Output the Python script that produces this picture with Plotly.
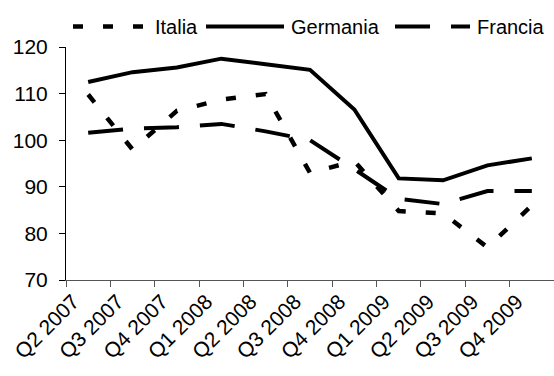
import plotly.graph_objects as go

quarters = ["Q2 2007", "Q3 2007", "Q4 2007", "Q1 2008", "Q2 2008", "Q3 2008",
            "Q4 2008", "Q1 2009", "Q2 2009", "Q3 2009", "Q4 2009"]
italia = [109.8, 98.0, 106.3, 108.7, 109.9, 93.0, 95.5, 84.8, 84.3, 77.0, 86.0]
germania = [112.5, 114.6, 115.6, 117.5, 116.3, 115.1, 106.6, 91.8, 91.4, 94.6, 96.1]
francia = [101.6, 102.5, 102.8, 103.5, 101.9, 100.0, 93.8, 87.4, 86.3, 89.1, 89.1]

series_names = ["Italia", "Germania", "Francia"]
series_values = [italia, germania, francia]
series_dash = ["10px,20px", "solid", "35px,21px"]
series_width = [4.5, 4, 4]

W, H = 554, 376
M_L, M_R, M_T, M_B = 66, 0, 47, 96
PW, PH = W - M_L - M_R, H - M_T - M_B

FONT = "Liberation Sans, Arial, sans-serif"

fig = go.Figure()
for name, vals, dash, lw in zip(series_names, series_values, series_dash, series_width):
    fig.add_trace(go.Scatter(
        x=quarters, y=vals, name=name, mode="lines",
        line=dict(color="black", width=lw, dash=dash),
        showlegend=False,
    ))


def px_x(px):
    return (px - M_L) / PW


def px_y(py):
    return (H - M_B - py) / PH


# legend row drawn across the top
legend_y = 26.5
legend_items = [(73, 143, 153), (206, 284, 289), (395, 470, 475)]
shapes = []
annotations = []
for (x0, x1, tx), name, dash, lw in zip(legend_items, series_names, series_dash, series_width):
    shapes.append(dict(
        type="line", xref="paper", yref="paper",
        x0=px_x(x0), x1=px_x(x1), y0=px_y(legend_y), y1=px_y(legend_y),
        line=dict(color="black", width=lw, dash=dash),
    ))
    annotations.append(dict(
        text=name, xref="paper", yref="paper", x=px_x(tx), y=px_y(legend_y),
        xanchor="left", yanchor="middle", showarrow=False,
        font=dict(family=FONT, size=20, color="black"),
    ))

fig.update_layout(
    width=W, height=H,
    margin=dict(l=M_L, r=M_R, t=M_T, b=M_B, pad=0),
    paper_bgcolor="white", plot_bgcolor="white",
    font=dict(family=FONT, size=20, color="black"),
    shapes=shapes, annotations=annotations,
    xaxis=dict(
        type="category", range=[-0.5, 10.5], tickson="boundaries",
        ticks="outside", ticklen=6, tickcolor="#555555",
        showline=True, linecolor="#555555", linewidth=1,
        showgrid=False, zeroline=False, tickangle=-45,
        ticklabelshift=-15,
        tickfont=dict(family=FONT, size=21, color="black"),
    ),
    yaxis=dict(
        range=[70, 120], dtick=10, tick0=70,
        ticks="outside", ticklen=6, tickcolor="black",
        showline=True, linecolor="black", linewidth=1,
        showgrid=False, zeroline=False,
        ticklabelstandoff=7,
        tickfont=dict(family=FONT, size=21, color="black"),
    ),
)

fig.write_html("out.html")
